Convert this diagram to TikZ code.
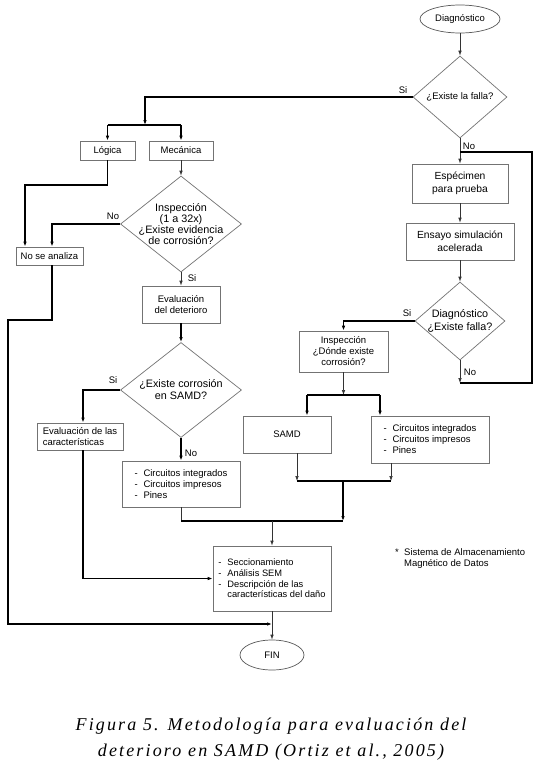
\documentclass[tikz,border=0pt]{standalone}
\usepackage{fontspec}
\setsansfont{Liberation Sans}
\newfontfamily\capfont[LetterSpace=12]{Liberation Serif}
\usetikzlibrary{arrows.meta,shapes.geometric}
\newcommand{\lin}[1]{\makebox[9pt][l]{-}#1}

\begin{document}
\begin{tikzpicture}[x=1pt,y=-1pt,>={Latex[length=5pt,width=3.6pt]},
    font=\sffamily\fontsize{9.5}{11}\selectfont,
    caja/.style={draw=black!55,line width=0.7pt,align=center,inner sep=1pt},
    rombo/.style={diamond,draw=black!55,line width=0.7pt,inner sep=0pt},
    ovalo/.style={ellipse,draw=black!65,line width=0.7pt,inner sep=0pt},
    fino/.style={draw=black!80,line width=0.7pt},
    grueso/.style={line width=1.9pt}]
    \fill[white] (0,0) rectangle (543,769);
    % columna derecha
    \node[ovalo,minimum width=80pt,minimum height=28pt] (diag) at (460,19) {Diagnóstico};
    \node[rombo,minimum width=94pt,minimum height=82pt,label=center:{¿Existe la falla?}] (falla) at (460,97) {};
    \node[caja,minimum width=96pt,minimum height=39pt,font=\sffamily\fontsize{10.3}{12.5}\selectfont] (espec) at (460,183.5) {Espécimen\\para prueba};
    \node[caja,minimum width=108pt,minimum height=37pt,font=\sffamily\fontsize{10.3}{12.5}\selectfont] (ensayo) at (460,241.5) {Ensayo simulación\\acelerada};
    \node[rombo,minimum width=90pt,minimum height=78pt,label={[align=center,font=\sffamily\fontsize{10.8}{12.5}\selectfont]center:{Diagnóstico\\¿Existe falla?}}] (diag2) at (460,321) {};
    \node[caja,minimum width=89pt,minimum height=41pt] (insp) at (343.5,351.5) {Inspección\\¿Dónde existe\\corrosión?};
    \node[caja,minimum width=88pt,minimum height=37pt] (samd) at (287,434.5) {SAMD};
    \node[caja,minimum width=118pt,minimum height=47pt,align=left] (circB) at (430,439.5) {\lin{Circuitos integrados}\\\lin{Circuitos impresos}\\\lin{Pines}};
    % columna izquierda
    \node[caja,minimum width=55pt,minimum height=19pt] (logica) at (107.5,150.5) {Lógica};
    \node[caja,minimum width=64pt,minimum height=19pt] (mecan) at (181,150.5) {Mecánica};
    \node[rombo,minimum width=121pt,minimum height=96pt,label={[align=center,font=\sffamily\fontsize{10.8}{11.2}\selectfont]center:{Inspección\\(1 a 32x)\\¿Existe evidencia\\de corrosión?}}] (insp1) at (181,224) {};
    \node[caja,minimum width=67pt,minimum height=18pt] (nose) at (49.5,256) {No se analiza};
    \node[caja,minimum width=78pt,minimum height=37pt] (evald) at (181,304.5) {Evaluación\\del deterioro};
    \node[rombo,minimum width=121pt,minimum height=95pt,label={[align=center,font=\sffamily\fontsize{10.8}{12}\selectfont]center:{¿Existe corrosión\\en SAMD?}}] (corr) at (181,390) {};
    \node[caja,minimum width=86pt,minimum height=27pt,align=left] (evc) at (80,436.5) {Evaluación de las\\características};
    \node[caja,minimum width=118pt,minimum height=46pt,align=left] (circA) at (181,484) {\lin{Circuitos integrados}\\\lin{Circuitos impresos}\\\lin{Pines}};
    \node[caja,minimum width=118pt,minimum height=65pt,align=left,font=\sffamily\fontsize{9.3}{10.7}\selectfont] (secc) at (272,578.5) {\lin{Seccionamiento}\\\lin{Análisis SEM}\\\lin{Descripción de las}\\\hspace*{9pt}características del daño};
    \node[ovalo,minimum width=64pt,minimum height=30pt] (fin) at (272,655) {FIN};
    % etiquetas Si / No
    \node (si1) at (403,90) {Si};
    \node (no1) at (469,146) {No};
    \node (si2) at (407,313) {Si};
    \node (no2) at (470,372) {No};
    \node (no3) at (113,216) {No};
    \node (si3) at (192,278) {Si};
    \node (si4) at (113,380) {Si};
    \node (no4) at (191,453) {No};
    \node[align=left,inner sep=0pt,anchor=west] (nota) at (395,559) {\makebox[9pt][l]{*}Sistema de Almacenamiento\\\hspace*{9pt}Magnético de Datos};
    \node[align=center,font=\capfont\itshape\fontsize{18}{26}\selectfont] (titulo) at (271,739) {Figura 5. Metodología para evaluación del\\deterioro en SAMD (Ortiz et al., 2005)};
    % conexiones derecha
    \draw[fino,->] (diag) -- (falla);
    \draw[fino,->] (falla) -- (espec);
    \draw[fino,->] (espec) -- (ensayo);
    \draw[fino,->] (ensayo) -- (diag2);
    \coordinate (lazoA) at (460,383);
    \coordinate (lazoB) at (532,152);
    \draw[fino,->] (diag2) -- (lazoA);
    \draw[grueso] (lazoA) -| (lazoB) -- (lazoB -| falla.south);
    \coordinate (ramaSi) at (145,125);
    \draw[grueso,->] (falla.west) -| (ramaSi);
    \draw[grueso] (logica.north |- ramaSi) -- (mecan.north |- ramaSi);
    \draw[grueso,->] (logica.north |- ramaSi) -- (logica);
    \draw[grueso,->] (mecan.north |- ramaSi) -- (mecan);
    \draw[grueso,->] (diag2.west) -| (insp.north);
    \coordinate (ramaI) at (343.5,395);
    \coordinate (ramaIa) at (307,395);
    \coordinate (ramaIb) at (380,395);
    \draw[fino,->] (insp) -- (ramaI);
    \draw[grueso] (ramaIa) -- (ramaIb);
    \draw[grueso,->] (ramaIa) -- (ramaIa |- samd.north);
    \draw[grueso,->] (ramaIb) -- (ramaIb |- circB.north);
    \coordinate (uneA) at (297,481);
    \coordinate (uneB) at (391,481);
    \coordinate (uneM) at (343,481);
    \coordinate (uneC) at (343,521);
    \coordinate (uneD) at (181,521);
    \draw[fino,->] (uneA |- samd.south) -- (uneA);
    \draw[fino,->] (uneB |- circB.south) -- (uneB);
    \draw[grueso] (uneA) -- (uneB);
    \draw[grueso,->] (uneM) -- (uneC);
    \draw[fino] (circA) -- (uneD);
    \draw[grueso] (uneD) -- (uneC);
    \draw[fino,->] (secc.north |- uneC) -- (secc);
    % conexiones izquierda
    \draw[fino,->] (mecan) -- (insp1);
    \coordinate (codo1) at (25,185);
    \draw[grueso,->] (logica.south) |- (codo1) -- (codo1 |- nose.north);
    \draw[grueso,->] (insp1.west) -| ([xshift=2.5pt]nose.north);
    \draw[fino,->] (insp1) -- (evald);
    \draw[grueso,->] (evald) -- (corr);
    \draw[grueso,->] (corr.west) -| ([xshift=3pt]evc.north);
    \draw[grueso,->] (corr) -- (circA);
    \draw[grueso,->] ([xshift=3pt]evc.south) |- (secc.west);
    \coordinate (codo2) at (8,320);
    \coordinate (codo3) at (8,624);
    \draw[grueso,->] ([xshift=2.5pt]nose.south) |- (codo2) -- (codo3) -- (codo3 -| fin.north);
    \draw[fino,->] (secc) -- (fin);
\end{tikzpicture}
\end{document}
